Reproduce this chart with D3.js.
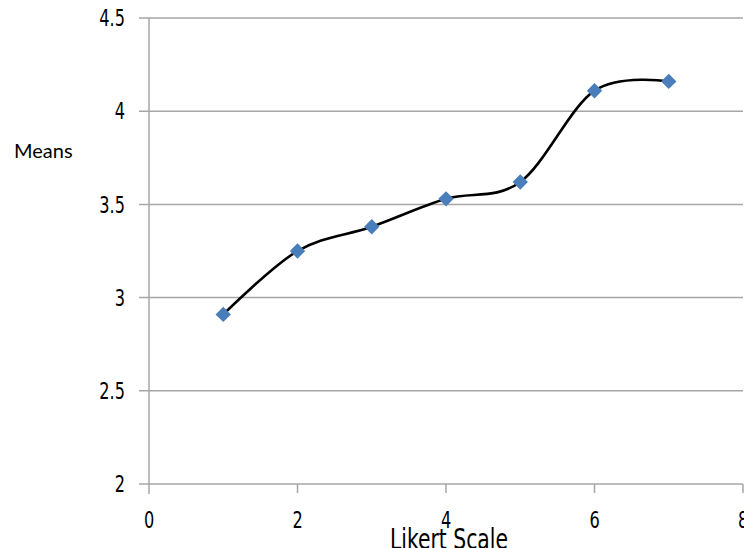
<!DOCTYPE html>
<html>
<head>
<meta charset="utf-8">
<script src="https://cdn.jsdelivr.net/npm/d3@7"></script>
<style>
  html, body { margin: 0; padding: 0; background: #fff; }
  svg { display: block; }
</style>
</head>
<body>
<svg id="chart" width="744" height="548"></svg>
<script>
const xValues = [1, 2, 3, 4, 5, 6, 7];
const meanValues = [2.91, 3.25, 3.38, 3.53, 3.62, 4.11, 4.16];
const xTicks = [0, 2, 4, 6, 8];
const yTicks = [2, 2.5, 3, 3.5, 4, 4.5];
const xTitle = "Likert Scale";
const yTitle = "Means";

const svg = d3.select("#chart");
const x = d3.scaleLinear().domain([0, 8]).range([149, 743]);
const y = d3.scaleLinear().domain([2, 4.5]).range([484, 18]);
const grid = "#a6a6a6";
const tickFont = "'Liberation Sans Narrow', 'DejaVu Sans Condensed', sans-serif";

// horizontal gridlines + left ticks
svg.append("g").selectAll("line").data(yTicks).join("line")
  .attr("x1", 139).attr("x2", 743)
  .attr("y1", d => y(d)).attr("y2", d => y(d))
  .attr("stroke", grid).attr("stroke-width", 1.5);

// y axis line
svg.append("line")
  .attr("x1", x(0)).attr("x2", x(0))
  .attr("y1", y(4.5)).attr("y2", y(2) + 10)
  .attr("stroke", grid).attr("stroke-width", 1.5);

// x ticks
svg.append("g").selectAll("line").data(xTicks.slice(1)).join("line")
  .attr("x1", d => x(d)).attr("x2", d => x(d))
  .attr("y1", y(2)).attr("y2", y(2) + 9)
  .attr("stroke", grid).attr("stroke-width", 1.5);

// y tick labels
svg.append("g").selectAll("text").data(yTicks).join("text")
  .attr("transform", d => `translate(125,${y(d)}) scale(0.78,1)`)
  .attr("dy", "0.36em")
  .attr("text-anchor", "end")
  .attr("font-family", tickFont).attr("font-size", 23)
  .attr("fill", "#000")
  .text(d => d);

// x tick labels
svg.append("g").selectAll("text").data(xTicks).join("text")
  .attr("transform", d => `translate(${x(d)},528) scale(0.78,1)`)
  .attr("text-anchor", "middle")
  .attr("font-family", tickFont).attr("font-size", 23)
  .attr("fill", "#000")
  .text(d => d);

// axis titles
svg.append("text")
  .attr("x", 14).attr("y", 158)
  .attr("font-family", "Lato, 'Open Sans', sans-serif").attr("font-size", 20)
  .attr("fill", "#000")
  .text(yTitle);

svg.append("text")
  .attr("x", 390).attr("y", 549)
  .attr("font-family", tickFont).attr("font-size", 29)
  .attr("textLength", 118).attr("lengthAdjust", "spacingAndGlyphs")
  .attr("fill", "#000")
  .text(xTitle);

// smooth line
const data = xValues.map((v, i) => ({x: v, y: meanValues[i]}));
const line = d3.line().x(d => x(d.x)).y(d => y(d.y)).curve(d3.curveCatmullRom.alpha(0));
svg.append("path").datum(data)
  .attr("d", line)
  .attr("fill", "none").attr("stroke", "#000").attr("stroke-width", 2.6);

// diamond markers
const sym = d3.symbol(d3.symbolSquare, 118);
svg.append("g").selectAll("path").data(data).join("path")
  .attr("d", sym)
  .attr("transform", d => `translate(${x(d.x)},${y(d.y)}) rotate(45)`)
  .attr("fill", "#4a7ebb");
</script>
</body>
</html>
